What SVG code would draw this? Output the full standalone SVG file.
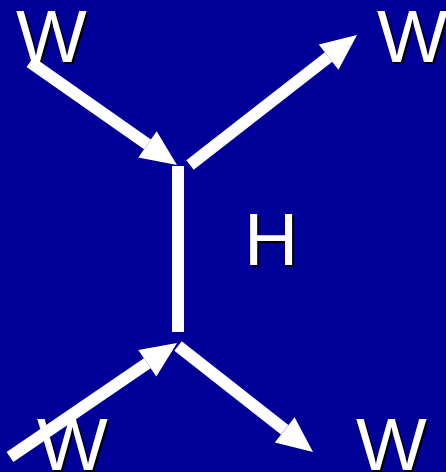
<svg xmlns="http://www.w3.org/2000/svg" width="446" height="472" viewBox="0 0 446 472">
<style>
.lbl{font-family:"Liberation Sans",Arial,sans-serif;font-size:75px;fill:#ffffff}
.sh{font-family:"Liberation Sans",Arial,sans-serif;font-size:75px;fill:#000000}
.edge{stroke:#ffffff;stroke-width:12;fill:none;stroke-linecap:butt}
</style>
<defs>
<marker id="ah" markerUnits="userSpaceOnUse" markerWidth="36" markerHeight="32" refX="0" refY="16" orient="auto" overflow="visible">
<path d="M0,0 L36,16 L0,32 Z" fill="#ffffff"/>
</marker>
</defs>
<rect width="446" height="472" fill="#000099"/>
<g id="w1"><text class="sh" x="18" y="64">W</text><text class="lbl" x="16" y="62">W</text></g>
<g id="w2"><text class="sh" x="379" y="64">W</text><text class="lbl" x="377" y="62">W</text></g>
<g id="w3"><text class="sh" x="39" y="472">W</text><text class="lbl" x="37" y="470">W</text></g>
<g id="w4"><text class="sh" x="358" y="472">W</text><text class="lbl" x="356" y="470">W</text></g>
<g id="h"><text class="sh" x="246" y="267">H</text><text class="lbl" x="244" y="265">H</text></g>
<g id="connectors">
<line class="edge" x1="178" y1="166" x2="178" y2="332"/>
<line class="edge" x1="30" y1="62" x2="147.5" y2="144.3" marker-end="url(#ah)"/>
<line class="edge" x1="190" y1="165" x2="328.6" y2="57.1" marker-end="url(#ah)"/>
<line class="edge" x1="10" y1="457" x2="147.3" y2="363.3" marker-end="url(#ah)"/>
<line class="edge" x1="178" y1="346" x2="284.7" y2="429.8" marker-end="url(#ah)"/>
</g>
</svg>
